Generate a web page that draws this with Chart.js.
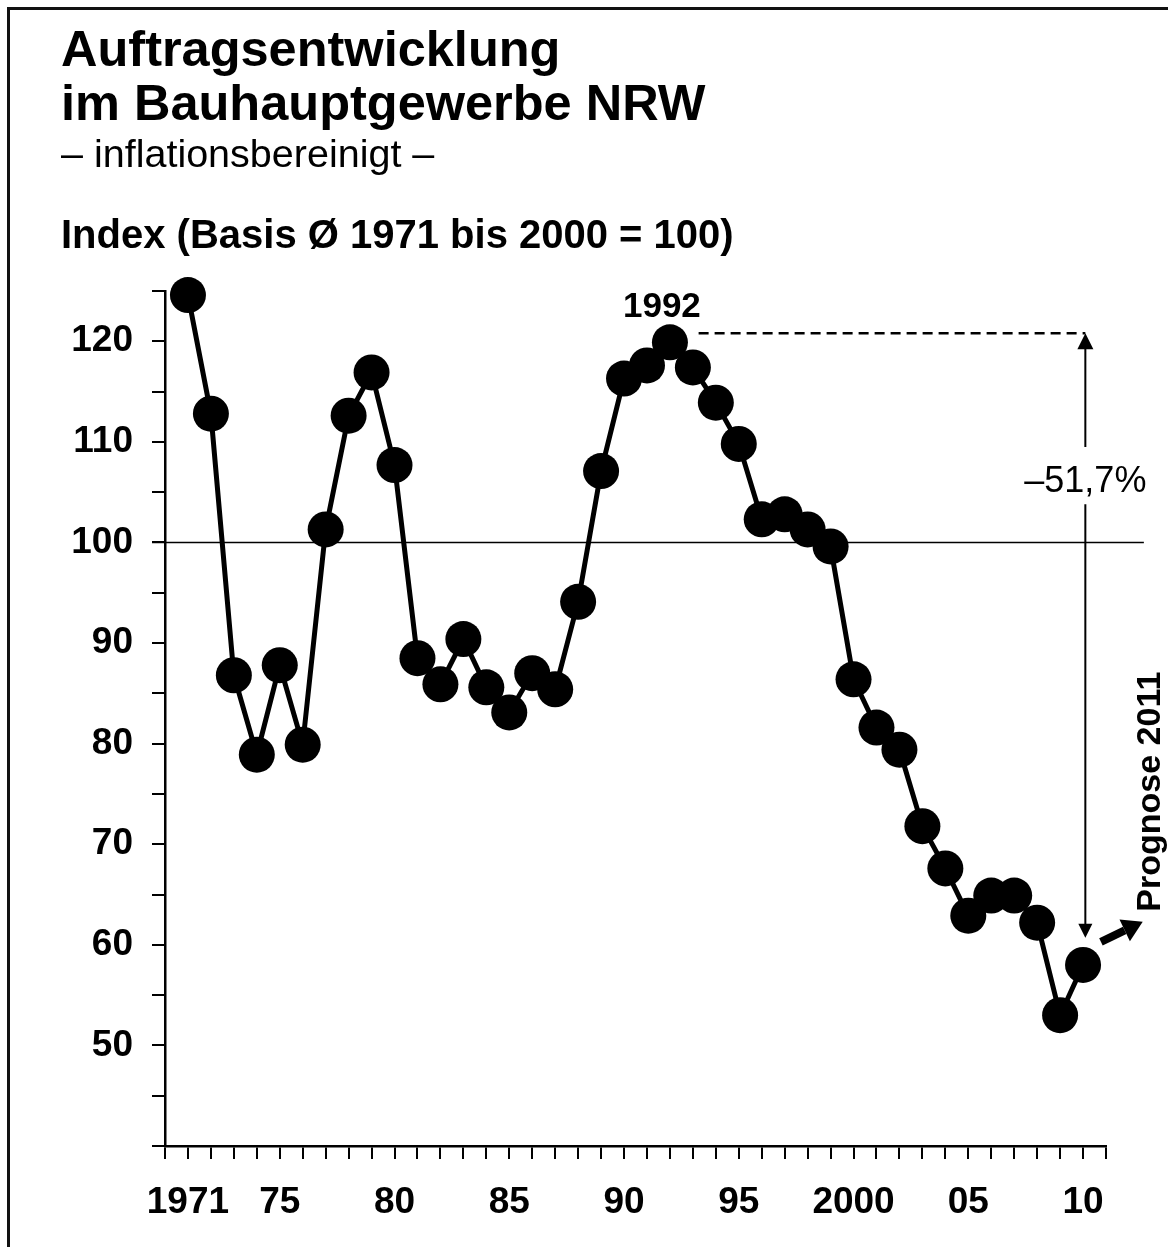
<!DOCTYPE html>
<html lang="de">
<head>
<meta charset="utf-8">
<title>Auftragsentwicklung im Bauhauptgewerbe NRW</title>
<script src="https://cdn.jsdelivr.net/npm/chart.js@4.4.1/dist/chart.umd.min.js"></script>
<style>
    html, body { margin: 0; padding: 0; background: #fff; }
    body {
        width: 1168px; height: 1247px; position: relative; overflow: hidden;
        font-family: "Liberation Sans", Arial, sans-serif; color: #000;
    }
    #chart { position: absolute; left: 0; top: 0; }
    #rahmen {
        position: absolute; left: 7px; top: 7px; right: -20px; bottom: -20px;
        border-left: 3px solid #111; border-top: 3px solid #111;
    }
    .txt { position: absolute; left: 61px; white-space: nowrap; line-height: 1; }
    #titel { top: 21.5px; font-size: 50.5px; line-height: 54px; font-weight: bold; }
    #untertitel { top: 133.6px; font-size: 39.5px; }
    #einheit { top: 214.1px; font-size: 40px; font-weight: bold; }
</style>
</head>
<body>
<canvas id="chart" width="1168" height="1247"></canvas>
<div id="rahmen"></div>
<div class="txt" id="titel">Auftragsentwicklung<br>im Bauhauptgewerbe NRW</div>
<div class="txt" id="untertitel">– inflationsbereinigt –</div>
<div class="txt" id="einheit">Index (Basis Ø 1971 bis 2000 = 100)</div>

<script>
// DATEN
const jahre = [1971, 1972, 1973, 1974, 1975, 1976, 1977, 1978, 1979, 1980,
               1981, 1982, 1983, 1984, 1985, 1986, 1987, 1988, 1989, 1990,
               1991, 1992, 1993, 1994, 1995, 1996, 1997, 1998, 1999, 2000,
               2001, 2002, 2003, 2004, 2005, 2006, 2007, 2008, 2009, 2010];
const indexWerte = [124.6, 112.8, 86.8, 78.9, 87.8, 79.9, 101.3, 112.6, 116.9, 107.7,
                    88.5, 85.9, 90.4, 85.6, 83.1, 87.0, 85.4, 94.1, 107.1, 116.3,
                    117.6, 119.9, 117.4, 113.9, 109.8, 102.3, 102.8, 101.3, 99.6, 86.4,
                    81.6, 79.4, 71.8, 67.6, 62.9, 64.9, 64.9, 62.2, 53.0, 58.0];
const xTickJahre = [1971, 1975, 1980, 1985, 1990, 1995, 2000, 2005, 2010];
const xTickTexte = ["1971", "75", "80", "85", "90", "95", "2000", "05", "10"];
const yTickWerte = [50, 60, 70, 80, 90, 100, 110, 120];

const basisWert = 100;
const spitzenJahr = 1992;
const veraenderungText = "–51,7%";
const prognoseText = "Prognose 2011";

const schrift = '"Liberation Sans", Arial, sans-serif';

// Anmerkungen: Basislinie, Pfeile, Beschriftungen
const anmerkungen = {
    id: "anmerkungen",
    beforeDatasetsDraw(chart) {
        const { ctx, scales: { x, y } } = chart;
        const yb = y.getPixelForValue(basisWert);
        ctx.save();
        ctx.strokeStyle = "#000";
        ctx.lineWidth = 1.6;
        ctx.beginPath();
        ctx.moveTo(x.left - 13, yb);
        ctx.lineTo(x.getPixelForValue(2012.65), yb);
        ctx.stroke();
        ctx.restore();
    },
    afterDatasetsDraw(chart) {
        const { ctx, scales: { x, y } } = chart;
        const spitze = indexWerte[jahre.indexOf(spitzenJahr)];
        const ax = x.getPixelForValue(2010.1);
        const yOben = y.getPixelForValue(120.8);
        const yUnten = y.getPixelForValue(60.7);

        ctx.save();
        ctx.fillStyle = "#000";
        ctx.strokeStyle = "#000";

        // 1992
        ctx.font = "bold 35px " + schrift;
        ctx.textAlign = "center";
        ctx.textBaseline = "alphabetic";
        ctx.fillText(String(spitzenJahr), x.getPixelForValue(1991.65), y.getPixelForValue(spitze + 2.5));

        // gestrichelte Linie vom Höchststand
        ctx.lineWidth = 2.5;
        ctx.setLineDash([10, 6]);
        ctx.beginPath();
        ctx.moveTo(x.getPixelForValue(1993.25), yOben);
        ctx.lineTo(ax, yOben);
        ctx.stroke();
        ctx.setLineDash([]);

        // senkrechter Doppelpfeil mit Lücke für den Text
        ctx.lineWidth = 2;
        ctx.beginPath();
        ctx.moveTo(ax, yOben + 14);
        ctx.lineTo(ax, y.getPixelForValue(109.5));
        ctx.moveTo(ax, y.getPixelForValue(103.8));
        ctx.lineTo(ax, yUnten - 12);
        ctx.stroke();
        ctx.beginPath();
        ctx.moveTo(ax, yOben);
        ctx.lineTo(ax - 8, yOben + 16);
        ctx.lineTo(ax + 8, yOben + 16);
        ctx.closePath();
        ctx.fill();
        ctx.beginPath();
        ctx.moveTo(ax, yUnten);
        ctx.lineTo(ax - 7, yUnten - 14);
        ctx.lineTo(ax + 7, yUnten - 14);
        ctx.closePath();
        ctx.fill();

        ctx.font = "36px " + schrift;
        ctx.fillText(veraenderungText, ax, y.getPixelForValue(105));

        // dicker Pfeil Richtung Prognose
        const sx = x.getPixelForValue(2010.78), sy = y.getPixelForValue(60.3);
        const tx = x.getPixelForValue(2012.6), ty = y.getPixelForValue(62.3);
        const ang = Math.atan2(ty - sy, tx - sx);
        const kopf = 20;
        const bx = tx - kopf * Math.cos(ang), by = ty - kopf * Math.sin(ang);
        ctx.lineWidth = 8;
        ctx.beginPath();
        ctx.moveTo(sx, sy);
        ctx.lineTo(bx, by);
        ctx.stroke();
        ctx.beginPath();
        ctx.moveTo(tx, ty);
        ctx.lineTo(bx + 12 * Math.sin(ang), by - 12 * Math.cos(ang));
        ctx.lineTo(bx - 12 * Math.sin(ang), by + 12 * Math.cos(ang));
        ctx.closePath();
        ctx.fill();

        // Prognose 2011 (senkrecht)
        ctx.translate(x.getPixelForValue(2013.35), y.getPixelForValue(63.3));
        ctx.rotate(-Math.PI / 2);
        ctx.font = "bold 34px " + schrift;
        ctx.textAlign = "left";
        ctx.fillText(prognoseText, 0, 0);
        ctx.restore();
    }
};

const achse = {
    grid: { drawOnChartArea: false, tickLength: 13, color: "#000", lineWidth: 2 },
    border: { color: "#000", width: 2.5 }
};

new Chart(document.getElementById("chart"), {
    type: "line",
    data: {
        datasets: [{
            data: jahre.map((j, i) => ({ x: j, y: indexWerte[i] })),
            borderColor: "#000",
            borderWidth: 5,
            pointRadius: 18,
            pointHoverRadius: 18,
            pointBackgroundColor: "#000",
            pointBorderWidth: 0,
            tension: 0,
            clip: false
        }]
    },
    options: {
        responsive: false,
        animation: false,
        devicePixelRatio: 1,
        layout: { padding: { top: 291, right: 62, left: 0, bottom: 0 } },
        plugins: { legend: { display: false }, tooltip: { enabled: false } },
        scales: {
            x: {
                type: "linear",
                min: 1970,
                max: 2011,
                afterBuildTicks: s => {
                    s.ticks = [];
                    for (let j = 1970; j <= 2011; j++) s.ticks.push({ value: j });
                },
                afterFit: s => { s.height = 101; },
                ticks: {
                    autoSkip: false,
                    maxRotation: 0,
                    color: "#000",
                    padding: 22,
                    font: { family: schrift, size: 37, weight: "bold" },
                    callback: v => {
                        const i = xTickJahre.indexOf(v);
                        return i >= 0 ? xTickTexte[i] : "";
                    }
                },
                grid: achse.grid,
                border: achse.border
            },
            y: {
                min: 40,
                max: 125,
                afterBuildTicks: s => {
                    s.ticks = [];
                    for (let v = 40; v <= 125; v += 5) s.ticks.push({ value: v });
                },
                afterFit: s => { s.width = 165; },
                ticks: {
                    color: "#000",
                    padding: 19,
                    font: { family: schrift, size: 37, weight: "bold" },
                    callback: v => yTickWerte.includes(v) ? String(v) : ""
                },
                grid: achse.grid,
                border: achse.border
            }
        }
    },
    plugins: [anmerkungen]
});
</script>
</body>
</html>
